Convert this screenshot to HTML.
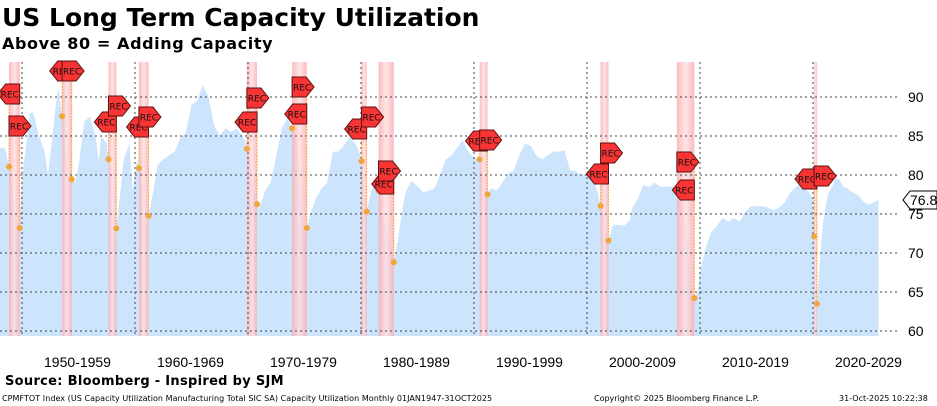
<!DOCTYPE html>
<html><head><meta charset="utf-8"><style>
body{margin:0;width:937px;height:406px;overflow:hidden;background:#fff;font-family:"DejaVu Sans","Liberation Sans",sans-serif;}
#wrap{position:relative;width:937px;height:406px;}
.t{position:absolute;white-space:nowrap;color:#000;}
</style></head><body><div id="wrap">
<div class="t" style="left:2px;top:3px;font-size:25px;font-weight:bold;">US Long Term Capacity Utilization</div>
<div class="t" style="left:2px;top:34px;font-size:16px;font-weight:bold;letter-spacing:0.6px;">Above 80 = Adding Capacity</div>
<svg id="chart" width="937" height="406" style="position:absolute;left:0;top:0" xmlns="http://www.w3.org/2000/svg"></svg>
<div class="t" style="left:5px;top:374px;font-size:13px;font-weight:bold;letter-spacing:0.3px;">Source: Bloomberg - Inspired by SJM</div>
<div class="t" style="left:2px;top:394px;font-size:8px;letter-spacing:0.05px;">CPMFTOT Index (US Capacity Utilization Manufacturing Total SIC SA) Capacity Utilization Monthly 01JAN1947-31OCT2025</div>
<div class="t" style="left:594px;top:394px;font-size:8px;">Copyright© 2025 Bloomberg Finance L.P.</div>
<div class="t" style="left:839px;top:394px;font-size:8px;">31-Oct-2025 10:22:38</div>
</div>
<script>
const years=[1948.0,1948.5,1949.0,1949.5,1949.8,1950.0,1950.3,1950.7,1951.0,1951.5,1952.0,1952.3,1952.7,1953.0,1953.2,1953.6,1954.0,1954.3,1954.7,1955.0,1955.5,1956.0,1956.5,1956.8,1957.0,1957.5,1957.8,1958.2,1958.5,1959.0,1959.5,1959.8,1960.2,1960.6,1961.0,1961.5,1962.0,1962.5,1963.0,1963.5,1964.0,1964.5,1965.0,1965.5,1966.0,1966.5,1967.0,1967.5,1968.0,1968.5,1969.0,1969.5,1969.8,1970.3,1970.9,1971.3,1971.5,1972.0,1972.5,1973.0,1973.5,1973.9,1974.3,1975.0,1975.5,1976.0,1976.5,1977.0,1977.5,1978.0,1978.5,1979.0,1979.5,1980.0,1980.5,1980.9,1981.3,1981.6,1982.0,1982.5,1982.9,1983.3,1983.7,1984.0,1984.5,1985.0,1985.5,1986.0,1986.5,1987.0,1987.5,1988.0,1988.5,1989.0,1989.5,1990.0,1990.5,1991.0,1991.5,1992.0,1992.5,1993.0,1993.5,1994.0,1994.5,1995.0,1995.5,1996.0,1996.5,1997.0,1997.5,1998.0,1998.5,1999.0,1999.5,2000.0,2000.5,2001.0,2001.5,2001.9,2002.3,2002.8,2003.3,2003.8,2004.0,2004.5,2005.0,2005.5,2006.0,2006.5,2007.0,2007.5,2007.9,2008.5,2008.9,2009.3,2009.8,2010.0,2010.5,2011.0,2011.5,2012.0,2012.5,2013.0,2013.5,2014.0,2014.5,2015.0,2015.5,2016.0,2016.5,2017.0,2017.5,2018.0,2018.5,2019.0,2019.5,2020.0,2020.3,2020.6,2020.9,2021.3,2021.7,2022.0,2022.3,2022.7,2023.0,2023.5,2024.0,2024.5,2025.0,2025.5,2025.8];
const values=[83.5,83.5,80,74,73.2,80,83,88,88,85,83,80,85,89,91.2,87,80,79.6,79,81,86.8,87.5,85,81.6,85,84,80,71.3,75,82,84,78,82,79,73.3,77,81.3,82,82.5,83,84.7,85.5,89,89.5,91.5,90,86.4,85,86,85.5,86,85,84.2,80,75.5,77,78,79,82.5,86,87.3,86,84,72,75,77,78.3,79,83,83,83.8,84.9,84,82.5,75.3,78,79,77.8,74,72,68.8,72,76,78,79.3,78.5,77.8,78,78.3,80,82,82.5,83.5,84.5,83,82.2,82,77,78.3,78,79,80.2,80.5,82.5,84,83.8,82.5,82,82.5,83,83,83.2,80.6,80.5,80,80.2,80,77.4,74,71.6,73.6,73.6,73.5,74.2,75.8,77,78.7,78.5,79,78.5,78.5,78.5,78.5,76,71.4,63.7,65,67.6,70.6,72.7,73.5,74.5,74,74.5,74,75.3,76,76,76,75.8,75.5,75.8,76.5,77.8,78.5,79,78,77,62.4,69,74,77.5,78.5,79.6,79.5,78.5,78.3,77.8,77.4,76.5,76.2,76.6,76.8];
const recStart=[1948.85,1953.55,1957.65,1960.35,1969.9,1973.9,1980.05,1981.55,1990.5,2001.2,2007.95,2020.1];
const recEnd=[1949.8,1954.4,1958.35,1961.2,1970.8,1975.2,1980.5,1982.9,1991.2,2001.9,2009.5,2020.35];
const yTicks=[60,65,70,75,80,85,90];
const decades=[1950,1960,1970,1980,1990,2000,2010,2020];
const lastValue="76.8";
// layout only: vertical pixel positions for flag centers
const flagStartY=[94,71,122,127,122,114,129,184,141,174,190,179];
const flagEndY=[126,71,106,117,98,87,117,171,140,153,162,176];

const NS="http://www.w3.org/2000/svg";
const svg=document.getElementById('chart');
const top_=62,bot=336,right=900;
const X=y=>22+(y-1950)*11.3;
const Y=v=>331-(v-60)*7.8;
function el(tag,attrs,parent){const e=document.createElementNS(NS,tag);for(const k in attrs)e.setAttribute(k,attrs[k]);(parent||svg).appendChild(e);return e;}
function valAt(t){for(let i=1;i<years.length;i++){if(years[i]>=t){const f=(t-years[i-1])/(years[i]-years[i-1]);return values[i-1]+f*(values[i]-values[i-1]);}}return values[values.length-1];}

const defs=el('defs',{});
const g=el('linearGradient',{id:'rg',x1:0,x2:1,y1:0,y2:0},defs);
el('stop',{offset:'0','stop-color':'#f9b0b4'},g);el('stop',{offset:'0.5','stop-color':'#fde0e2'},g);el('stop',{offset:'1','stop-color':'#f9b0b4'},g);

let d=`M${X(years[0])},${bot}`;
years.forEach((yr,i)=>{d+=` L${X(yr).toFixed(1)},${Y(values[i]).toFixed(1)}`;});
d+=` L${X(years[years.length-1])},${bot} Z`;
const area=el('path',{d:d,fill:'#cce4fc'});



recStart.forEach((s,i)=>{
  const r=el('rect',{x:X(s),y:top_,width:Math.max(3,X(recEnd[i])-X(s)),height:bot-top_,fill:'url(#rg)',opacity:0.85});
  
  
});

yTicks.forEach(v=>{
  const l=el('line',{x1:0,x2:right,y1:Y(v),y2:Y(v),stroke:'#444','stroke-dasharray':'2,3','stroke-width':1});
  
  
  const t=el('text',{x:908,y:Y(v)+5,'font-size':14,'font-family':'Liberation Sans, sans-serif',fill:'#000'});
  t.textContent=v;
  
  
});
decades.forEach(dc=>{
  const l=el('line',{x1:X(dc),x2:X(dc),y1:top_,y2:bot,stroke:'#444','stroke-dasharray':'2,3','stroke-width':1});
  
  
  const t=el('text',{x:X(dc+5)-1,y:367,'font-size':14,'font-family':'Liberation Sans, sans-serif','text-anchor':'middle',fill:'#000'});
  t.textContent=dc+'-'+(dc+9);
  
  
});

function flag(xr,yc,dir){
  const h=10,w=14,p=8;let pts;
  if(dir<0){pts=`${xr},${yc-h} ${xr},${yc+h} ${xr-w},${yc+h} ${xr-w-p},${yc} ${xr-w},${yc-h}`;}
  else{pts=`${xr},${yc-h} ${xr+w},${yc-h} ${xr+w+p},${yc} ${xr+w},${yc+h} ${xr},${yc+h}`;}
  const f=el('polygon',{points:pts,fill:'#f93434',stroke:'#5a1010','stroke-width':1});
  
  
  const cx=dir<0?xr-w/2-3:xr+w/2+3;
  const t=el('text',{x:cx,y:yc+3.5,'font-size':9,'text-anchor':'middle','font-family':'DejaVu Sans, sans-serif',fill:'#111'});
  t.textContent='REC';
  
  
}
recStart.forEach((s,i)=>{
  const xs=X(s),xe=X(recEnd[i]);
  const vs=valAt(s),ve=valAt(recEnd[i]);
  const l1=el('line',{x1:xs,x2:xs,y1:flagStartY[i],y2:Y(vs),stroke:'#f5a623','stroke-dasharray':'1.5,1.5','stroke-width':1});
  
  
  const l2=el('line',{x1:xe,x2:xe,y1:flagEndY[i],y2:Y(ve),stroke:'#f5a623','stroke-dasharray':'1.5,1.5','stroke-width':1});
  
  
  const c1=el('circle',{cx:xs,cy:Y(vs),r:3,fill:'#f0a63a'});
  
  
  const c2=el('circle',{cx:xe,cy:Y(ve),r:3,fill:'#f0a63a'});
  
  
  flag(xe,flagStartY[i],-1);
  flag(xs,flagEndY[i],1);
});

const ly=Y(values[values.length-1]);
const tag=el('polygon',{points:`903,${ly} 910,${ly-9} 937,${ly-9} 937,${ly+9} 910,${ly+9}`,fill:'#fff',stroke:'#000','stroke-width':1});


const lt=el('text',{x:910,y:ly+5,'font-size':14,'font-family':'Liberation Sans, sans-serif',fill:'#000'});
lt.textContent=lastValue;


</script></body></html>
